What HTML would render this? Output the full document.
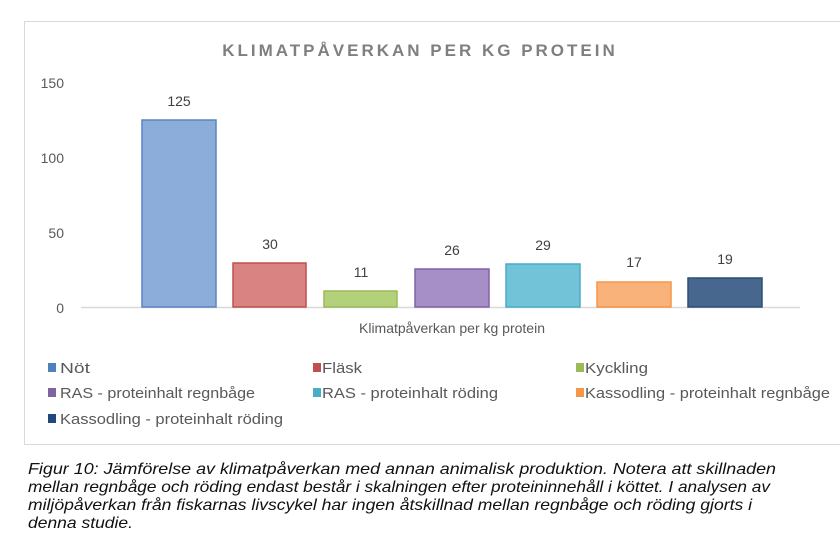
<!DOCTYPE html>
<html><head><meta charset="utf-8"><style>
body{margin:0;background:#fff;}
svg{display:block;}
</style></head><body>
<svg width="840" height="539" xmlns="http://www.w3.org/2000/svg" font-family="Liberation Sans, sans-serif">
<rect x="24.5" y="21.5" width="830" height="423" fill="#fff" stroke="#d9d9d9"/>
<text x="420" y="56" text-anchor="middle" font-size="17" font-weight="bold" fill="#7f7f7f" letter-spacing="3">KLIMATPÅVERKAN PER KG PROTEIN</text>
<g font-size="14" fill="#595959" text-anchor="end">
<text x="64" y="88">150</text><text x="64" y="163">100</text><text x="64" y="238">50</text><text x="64" y="313">0</text>
</g>
<line x1="81" y1="307.5" x2="800" y2="307.5" stroke="#d9d9d9" stroke-width="1.5"/>
<g stroke-width="1.5">
<rect x="142" y="120" width="74" height="187" fill="#8cacda" stroke="#5a84c4"/>
<rect x="233" y="263" width="73" height="44" fill="#d98483" stroke="#c0504d"/>
<rect x="324" y="291" width="73" height="16" fill="#b3d17a" stroke="#9bbb59"/>
<rect x="415" y="269" width="74" height="38" fill="#a58fc6" stroke="#8064a2"/>
<rect x="506" y="264" width="74" height="43" fill="#73c3d8" stroke="#4bacc6"/>
<rect x="597" y="282" width="74" height="25" fill="#f8b27a" stroke="#f79646"/>
<rect x="688" y="278" width="74" height="29" fill="#47678f" stroke="#2f4e77"/>
</g>
<g font-size="14" fill="#404040" text-anchor="middle">
<text x="179" y="106">125</text><text x="270" y="249">30</text><text x="361" y="277">11</text><text x="452" y="255">26</text><text x="543" y="250">29</text><text x="634" y="267">17</text><text x="725" y="264">19</text>
</g>
<text x="452" y="333" text-anchor="middle" font-size="14" fill="#595959">Klimatpåverkan per kg protein</text>
<g font-size="15" fill="#595959">
<rect x="48" y="363" width="8" height="9" fill="#4f81bd"/><text x="60" y="373" textLength="30" lengthAdjust="spacingAndGlyphs">Nöt</text>
<rect x="313" y="363" width="8" height="9" fill="#c0504d"/><text x="322" y="373" textLength="40" lengthAdjust="spacingAndGlyphs">Fläsk</text>
<rect x="576" y="363" width="8" height="9" fill="#9bbb59"/><text x="585" y="373" textLength="63" lengthAdjust="spacingAndGlyphs">Kyckling</text>
<rect x="48" y="388" width="8" height="9" fill="#8064a2"/><text x="60" y="398" textLength="195" lengthAdjust="spacingAndGlyphs">RAS - proteinhalt regnbåge</text>
<rect x="313" y="388" width="8" height="9" fill="#4bacc6"/><text x="322" y="398" textLength="176" lengthAdjust="spacingAndGlyphs">RAS - proteinhalt röding</text>
<rect x="576" y="388" width="8" height="9" fill="#f79646"/><text x="585" y="398" textLength="245" lengthAdjust="spacingAndGlyphs">Kassodling - proteinhalt regnbåge</text>
<rect x="48" y="414" width="8" height="9" fill="#1f497d"/><text x="60" y="424" textLength="223" lengthAdjust="spacingAndGlyphs">Kassodling - proteinhalt röding</text>
</g>
<g font-size="16" font-style="italic" fill="#111">
<text x="28" y="474" textLength="748" lengthAdjust="spacingAndGlyphs">Figur 10: Jämförelse av klimatpåverkan med annan animalisk produktion. Notera att skillnaden</text>
<text x="28" y="492" textLength="742" lengthAdjust="spacingAndGlyphs">mellan regnbåge och röding endast består i skalningen efter proteininnehåll i köttet. I analysen av</text>
<text x="28" y="510" textLength="724" lengthAdjust="spacingAndGlyphs">miljöpåverkan från fiskarnas livscykel har ingen åtskillnad mellan regnbåge och röding gjorts i</text>
<text x="28" y="528" textLength="105" lengthAdjust="spacingAndGlyphs">denna studie.</text>
</g>
</svg>
</body></html>
